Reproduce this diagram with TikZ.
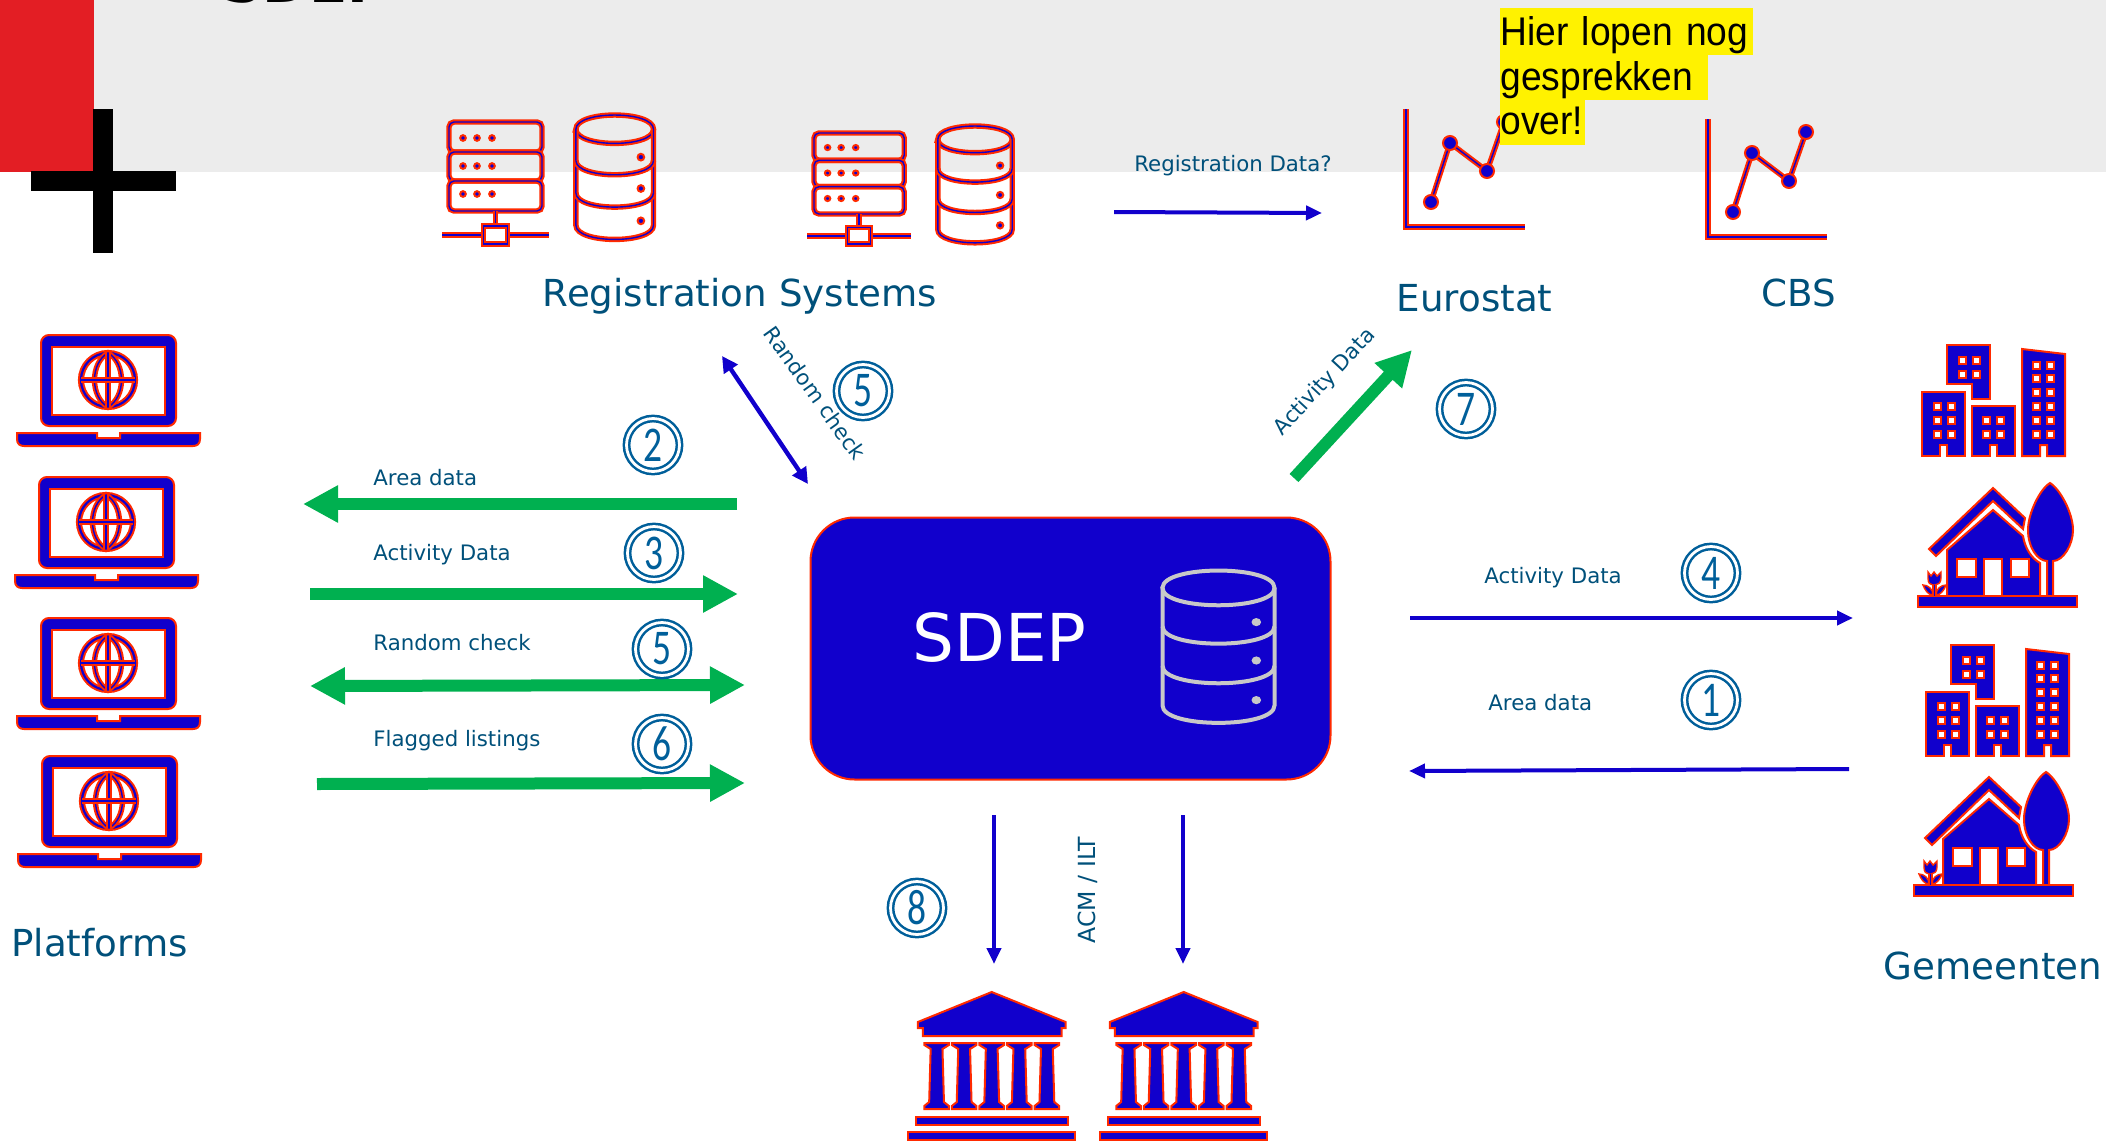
\documentclass[tikz,border=0pt]{standalone}
\usepackage{fontspec}
\setmainfont{DejaVu Sans}
\newfontfamily\yellowfont[FakeStretch=0.93]{Liberation Sans}
\newfontfamily\numfont[FakeStretch=0.75]{Carlito}
\usetikzlibrary{arrows.meta}
\definecolor{iconblue}{HTML}{1100CC}
\definecolor{iconred}{HTML}{FF2A00}
\definecolor{bannerred}{HTML}{E31E24}
\definecolor{bannergray}{HTML}{ECECEC}
\definecolor{labelteal}{HTML}{00507A}
\definecolor{numblue}{HTML}{005F9A}
\definecolor{arrowgreen}{HTML}{00B050}
\definecolor{dbgray}{HTML}{C8C8C8}
\tikzset{
    iconline/.style={draw=iconred,double=iconblue,double distance=.7pt,line width=1pt},
    iconfill/.style={draw=iconred,fill=iconblue,line width=1pt,line join=miter},
    iconhole/.style={draw=iconred,fill=white,line width=1pt},
    icondot/.style={draw=iconred,fill=iconblue,line width=1pt},
    grayline/.style={draw=dbgray,line width=2pt},
    graydot/.style={fill=dbgray},
    greenarrow/.style={draw=arrowgreen,line width=6pt,-{Triangle[length=17.5pt,width=17.5pt]}},
    greenboth/.style={draw=arrowgreen,line width=6pt,{Triangle[length=17.5pt,width=17.5pt]}-{Triangle[length=17.5pt,width=17.5pt]}},
    bluearrow/.style={draw=iconblue,line width=2pt,-{Triangle[length=8pt,width=7pt]}},
    blueboth/.style={draw=iconblue,line width=2.2pt,{Triangle[length=8pt,width=8pt]}-{Triangle[length=8pt,width=8pt]}},
    smalllabel/.style={text=labelteal,font=\fontsize{10.65}{12}\selectfont,inner sep=0pt},
    biglabel/.style={text=labelteal,font=\fontsize{18.6}{22}\selectfont,inner sep=0pt},
    numcircle/.style={circle,draw=numblue,double=white,double distance=1.4pt,line width=1.25pt,
        minimum size=26.5pt,inner sep=0pt,text=numblue,font=\numfont\fontsize{25}{25}\selectfont},
    yellowline/.style={fill=yellow,text=black,anchor=north west,inner sep=0pt,align=left,
        font=\yellowfont\fontsize{20}{22}\selectfont},
    pics/dbicon/.style n args={2}{code={
        \draw[#1] (-40,14.5) .. controls (-40,-4.8) and (40,-4.8) .. (40,14.5)
            .. controls (40,33.8) and (-40,33.8) .. cycle;
        \draw[#1] (-40,14.5) -- (-40,112.5) .. controls (-40,131.8) and (40,131.8) .. (40,112.5) -- (40,14.5);
        \foreach \y in {46.5,79.5} {
            \draw[#1] (-40,\y) .. controls (-40,\y+19.3) and (40,\y+19.3) .. (40,\y);
        }
        \foreach \y in {43,75,108} {
            \path[#2] (27,\y) circle (3.4);
        }
    }},
    pics/servericon/.style={code={
        \draw[iconline,rounded corners=2.5pt] (0,0) rectangle (93,30);
        \draw[iconline,rounded corners=2.5pt] (0,30) rectangle (93,59);
        \draw[iconline,rounded corners=2.5pt] (0,59) rectangle (93,89);
        \foreach \y in {16,44,72} {
            \foreach \x in {14,28,43} {
                \path[icondot] (\x,\y) circle (2.8);
            }
        }
        \draw[iconline] (46.5,89) -- (46.5,104);
        \draw[iconline] (-7,113) -- (34.5,113);
        \draw[iconline] (58.5,113) -- (100,113);
        \draw[iconline] (34.5,104) rectangle (58.5,122);
    }},
    pics/charticon/.style={code={
        \draw[iconline] (0,-118) -- (0,0) -- (119,0);
        \draw[iconline] (25,-25) -- (44,-84) -- (81,-56) -- (98,-105);
        \foreach \x/\y in {25/-25,44/-84,81/-56,98/-105} {
            \path[icondot] (\x,\y) circle (7);
        }
    }},
    pics/laptopicon/.style={code={
        \draw[iconfill,rounded corners=4pt] (24,91) -- (24,0) -- (159,0) -- (159,91) -- cycle;
        \draw[iconhole] (35,12) rectangle (148,80);
        \draw[iconline,double distance=1.1pt] (91,45) circle (27);
        \draw[iconline] (91,18) .. controls (73,28) and (73,62) .. (91,72)
            .. controls (109,62) and (109,28) .. (91,18) -- cycle;
        \draw[iconline] (91,18) -- (91,72);
        \draw[iconline] (64,45) -- (118,45);
        \draw[iconfill] (0,98) -- (80,98) -- (80,103) -- (103,103) -- (103,98) -- (183,98)
            -- (183,104) .. controls (183,109) and (180,111) .. (176,111) -- (7,111)
            .. controls (3,111) and (0,109) .. (0,104) -- cycle;
    }},
    pics/cityicon/.style={code={
        \draw[iconfill] (0,47) -- (43,47) -- (43,111) -- (25,111) -- (25,100) -- (18,100) -- (18,111) -- (0,111) -- cycle;
        \draw[iconfill] (25,0) -- (68,0) -- (68,54) -- (50,54) -- (50,39) -- (25,39) -- cycle;
        \draw[iconfill] (50,61) -- (93,61) -- (93,111) -- (75,111) -- (75,100) -- (68,100) -- (68,111) -- (50,111) -- cycle;
        \draw[iconfill] (100,4) -- (143,9) -- (143,111) -- (125,111) -- (125,100) -- (118,100) -- (118,111) -- (100,111) -- cycle;
        \foreach \x/\y in {15/61,29/61,15/75,29/75,15/89,29/89,40/15,54/15,40/29,54/29,
            64/75,78/75,64/89,78/89,114/20,128/20,114/33,128/33,114/47,128/47,114/61,128/61,114/75,128/75,114/89,128/89} {
            \draw[iconhole] (\x-3.5,\y-3.5) rectangle +(7,7);
        }
    }},
    pics/houseicon/.style={code={
        \draw[iconfill] (29,114) -- (29,67) -- (75,27) -- (105,53) .. controls (107,65) and (113,75) .. (122,80)
            -- (122,114) -- cycle;
        \draw[iconfill] (11,66) -- (75,5) -- (107,35) -- (105,46) -- (75,18) -- (18,73) -- cycle;
        \draw[iconhole] (39,76) rectangle (58,94);
        \draw[iconhole] (66,76) rectangle (84,114);
        \draw[iconhole] (93,76) rectangle (111,94);
        \draw[iconfill] (132,0) .. controls (122,6) and (110,30) .. (110,47) .. controls (110,65) and (120,78) .. (129,78)
            -- (129,114) -- (135,114) -- (135,78) .. controls (145,78) and (155,62) .. (155,47)
            .. controls (155,30) and (142,6) .. (132,0) -- cycle;
        \draw[iconfill] (0,113) -- (159,113) -- (159,124) -- (0,124) -- cycle;
        \draw[iconfill,line width=.7pt] (10,89) -- (13,93) -- (16,89) -- (19,93) -- (23,89) -- (23,95)
            .. controls (23,100) and (20,102) .. (17,102) -- (15,102) .. controls (12,102) and (10,100) .. (10,95) -- cycle;
        \draw[iconfill,line width=.7pt] (5,102) .. controls (10,102) and (15,106) .. (15,112) .. controls (10,112) and (7,107) .. (5,102) -- cycle;
        \draw[iconfill,line width=.7pt] (28,102) .. controls (23,102) and (18,106) .. (18,112) .. controls (23,112) and (26,107) .. (28,102) -- cycle;
        \draw[iconline] (16.5,102) -- (16.5,113);
    }},
    pics/templeicon/.style={code={
        \draw[iconfill] (85,0) -- (160,30) -- (160,36) -- (156,36) -- (156,44) -- (15,44) -- (15,36)
            -- (10,36) -- (10,30) -- cycle;
        \foreach \x in {29,57,85,113,141} {
            \draw[iconfill] (\x-12.5,51) -- (\x+12.5,51) -- (\x+12.5,53) -- (\x+6,57) -- (\x+7.5,110) -- (\x+12.5,114)
                -- (\x+12.5,117) -- (\x-12.5,117) -- (\x-12.5,114) -- (\x-7.5,110) -- (\x-6,57) -- (\x-12.5,53) -- cycle;
        }
        \draw[iconfill] (8.5,125) rectangle (162,133);
        \draw[iconfill] (0,140) rectangle (170,148);
    }},
}
\begin{document}
\begin{tikzpicture}[x=0.5pt,y=-0.5pt]
    \useasboundingbox (0,0) rectangle (2106,1141);
    \clip (0,0) rectangle (2106,1141);
    % banner
    \fill[bannergray] (0,0) rectangle (2106,172);
    \fill[bannerred] (0,0) rectangle (94,172);
    \fill[black] (93,109) rectangle (113,253);
    \fill[black] (31,171) rectangle (176,191);
    \node[anchor=base west,inner sep=0pt,text=black,font=\bfseries\fontsize{28}{30}\selectfont] (title) at (222,2) {SDEP};

    % registration systems and statistics
    \pic at (449,122) {servericon};
    \pic[xscale=.97,yscale=.98] at (614.7,115) {dbicon={iconline}{icondot}};
    \pic[xscale=.97,yscale=.91] at (814,133) {servericon};
    \pic[xscale=.93,yscale=.92] at (975,126) {dbicon={iconline}{icondot}};
    \pic at (1406,227) {charticon};
    \pic at (1708,237) {charticon};
    \node[biglabel] (regsys) at (740,296.5) {Registration Systems};
    \node[biglabel] (eurostat) at (1474.5,298) {Eurostat};
    \node[biglabel] (cbs) at (1799,293) {CBS};

    % note over the chart
    \node[yellowline,text width=126.5pt,text height=18.5pt,text depth=5pt] (note1) at (1500,8) {Hier lopen nog};
    \node[yellowline,text width=104pt,text height=17.5pt,text depth=5pt] (note2) at (1500,55) {gesprekken};
    \node[yellowline,text width=42.5pt,text height=17pt,text depth=5.5pt] (note3) at (1500,100) {over!};

    % platforms
    \foreach \dx/\dy in {0/0,-2/142,0/283,1/421} {
        \pic at (17+\dx,335+\dy) {laptopicon};
    }
    \node[biglabel] (platforms) at (99.5,943) {Platforms};

    % gemeenten
    \pic at (1922,345) {cityicon};
    \pic at (1918,483) {houseicon};
    \pic at (1926,645) {cityicon};
    \pic at (1914,772) {houseicon};
    \node[biglabel] (gemeenten) at (1993,966) {Gemeenten};

    % ministries
    \pic[xscale=.985] at (908,992) {templeicon};
    \pic[xscale=.985] at (1100,992) {templeicon};

    % SDEP
    \node[draw=iconred,fill=iconblue,line width=1pt,rounded corners=22pt,minimum width=260pt,minimum height=131pt] (sdep) at (1070.5,648.5) {};
    \node[text=white,inner sep=0pt,font=\fontsize{33}{36}\selectfont] (sdeplabel) at (999.5,637) {SDEP};
    \pic[xscale=1.4,yscale=1.2] at (1218.5,570.5) {dbicon={grayline}{graydot}};

    % free ends of the arrows
    \coordinate (regdataA) at (1114,212);
    \coordinate (regdataB) at (1322,213);
    \coordinate (checkA) at (722,356);
    \coordinate (checkB) at (808,484);
    \coordinate (statA) at (1294,478);
    \coordinate (statB) at (1412,350);
    \coordinate (areaL) at (303,504);
    \coordinate (areaR) at (737,504);
    \coordinate (actL) at (310,594);
    \coordinate (actR) at (738,594);
    \coordinate (randL) at (310,686);
    \coordinate (randR) at (745,685);
    \coordinate (flagL) at (317,784);
    \coordinate (flagR) at (745,783);
    \coordinate (gemA) at (1410,618);
    \coordinate (gemB) at (1853,618);
    \coordinate (gemC) at (1849,769);
    \coordinate (gemD) at (1409,771);
    \coordinate (downA) at (994,815);
    \coordinate (downB) at (994,964);
    \coordinate (downC) at (1183,815);
    \coordinate (downD) at (1183,964);

    \draw[bluearrow] (regdataA) -- (regdataB);
    \draw[blueboth] (checkA) -- (checkB);
    \draw[greenarrow] (statA) -- (statB);
    \draw[greenarrow] (areaR) -- (areaL);
    \draw[greenarrow] (actL) -- (actR);
    \draw[greenboth] (randL) -- (randR);
    \draw[greenarrow] (flagL) -- (flagR);
    \draw[bluearrow] (gemA) -- (gemB);
    \draw[bluearrow] (gemC) -- (gemD);
    \draw[bluearrow] (downA) -- (downB);
    \draw[bluearrow] (downC) -- (downD);

    % labels on the arrows
    \node[smalllabel] (lregdata) at (1233,166) {Registration Data?};
    \node[smalllabel,rotate=-54.5] (lcheck) at (815,393) {Random check};
    \node[smalllabel,rotate=47] (lstat) at (1325,382) {Activity Data};
    \node[smalllabel,anchor=west] (larea) at (373,478) {Area data};
    \node[smalllabel,anchor=west] (lact) at (373,555) {Activity Data};
    \node[smalllabel,anchor=west] (lrand) at (373,643) {Random check};
    \node[smalllabel,anchor=west] (lflag) at (373,741) {Flagged listings};
    \node[smalllabel,anchor=west] (lactright) at (1484,578) {Activity Data};
    \node[smalllabel,anchor=west] (larearight) at (1488,703) {Area data};
    \node[smalllabel,rotate=90,font=\fontsize{11.8}{13}\selectfont] (lacm) at (1088,890) {ACM / ILT};

    % numbers
    \foreach \name/\x/\y/\num in {n2/653/445/2,n3/654/553/3,n5a/662/649/5,n6/662/744/6,
        n5b/863/391/5,n7/1466/409/7,n4/1711/573/4,n1/1711/700/1,n8/917/908/8} {
        \node[numcircle] (\name) at (\x,\y) {\num};
    }
\end{tikzpicture}
\end{document}
